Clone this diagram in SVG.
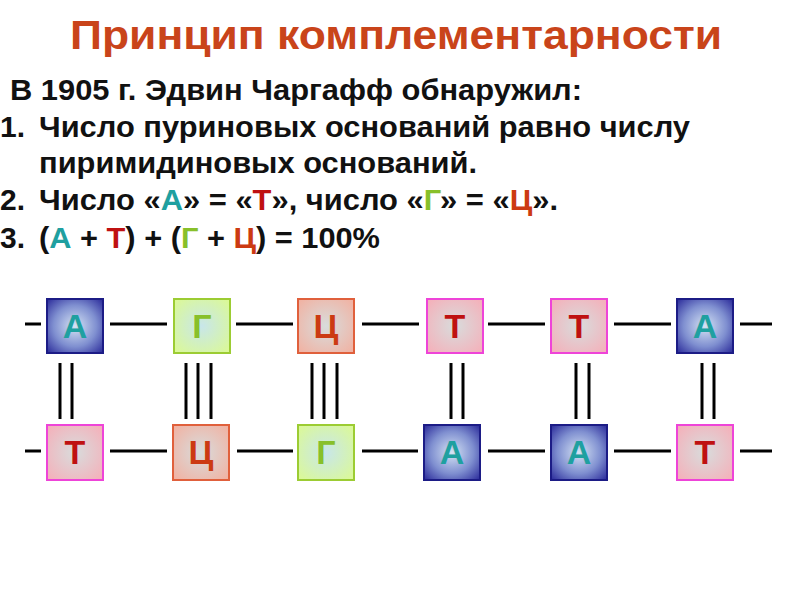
<svg xmlns="http://www.w3.org/2000/svg" width="800" height="600" viewBox="0 0 800 600">
<defs>
<radialGradient id="gA" cx="50%" cy="50%" r="70%">
<stop offset="0" stop-color="#d6e4f4"/><stop offset="0.55" stop-color="#7f8fd0"/><stop offset="1" stop-color="#2a2a9a"/>
</radialGradient>
<radialGradient id="gG" cx="50%" cy="50%" r="70%">
<stop offset="0" stop-color="#c8e6ea"/><stop offset="1" stop-color="#dcfa92"/>
</radialGradient>
<radialGradient id="gC" cx="50%" cy="50%" r="70%">
<stop offset="0" stop-color="#d8dcdc"/><stop offset="1" stop-color="#f2b0a0"/>
</radialGradient>
<radialGradient id="gT" cx="50%" cy="50%" r="70%">
<stop offset="0" stop-color="#d8dcdc"/><stop offset="1" stop-color="#f6aeb8"/>
</radialGradient>
</defs>
<style>
text{font-family:"Liberation Sans",Arial,sans-serif;font-weight:bold}
.title{font-size:40px;fill:#c9441a}
.body{font-size:30px;fill:#111}
.cA{fill:#1fa0a0}.cT{fill:#bf1111}.cG{fill:#88c02a}.cC{fill:#cc3a12}
.bA{fill:url(#gA);stroke:#1c1c86;stroke-width:2}
.bG{fill:url(#gG);stroke:#9ccc33;stroke-width:2}
.bC{fill:url(#gC);stroke:#e0603c;stroke-width:2}
.bT{fill:url(#gT);stroke:#ee44d8;stroke-width:2}
.lbl{font-size:34px;text-anchor:middle}
.ln line{stroke:#000;stroke-width:3}
</style>
<rect width="800" height="600" fill="#fff"/>
<text class="title" x="70" y="49" textLength="652" lengthAdjust="spacingAndGlyphs">Принцип комплементарности</text>
<text class="body" x="10" y="100" textLength="572" lengthAdjust="spacingAndGlyphs">В 1905 г. Эдвин Чаргафф обнаружил:</text>
<text class="body" x="0" y="137">1.</text>
<text class="body" x="39" y="137" textLength="651" lengthAdjust="spacingAndGlyphs">Число пуриновых оснований равно числу</text>
<text class="body" x="39" y="173" textLength="438" lengthAdjust="spacingAndGlyphs">пиримидиновых оснований.</text>
<text class="body" x="0" y="210">2.</text>
<text class="body" x="39" y="210" textLength="519" lengthAdjust="spacingAndGlyphs">Число «<tspan class="cA">А</tspan>» = «<tspan class="cT">Т</tspan>», число «<tspan class="cG">Г</tspan>» = «<tspan class="cC">Ц</tspan>».</text>
<text class="body" x="0" y="248">3.</text>
<text class="body" x="39" y="248" textLength="341" lengthAdjust="spacingAndGlyphs">(<tspan class="cA">А</tspan> + <tspan class="cT">Т</tspan>) + (<tspan class="cG">Г</tspan> + <tspan class="cC">Ц</tspan>) = 100%</text>

<g id="connectors" class="ln">
<line x1="25" y1="324" x2="41" y2="324"/>
<line x1="110" y1="324" x2="167" y2="324"/>
<line x1="236" y1="324" x2="293" y2="324"/>
<line x1="362" y1="324" x2="419" y2="324"/>
<line x1="488" y1="324" x2="545" y2="324"/>
<line x1="614" y1="324" x2="671" y2="324"/>
<line x1="740" y1="324" x2="772" y2="324"/>
<line x1="25" y1="451" x2="41" y2="451"/>
<line x1="110" y1="451" x2="167" y2="451"/>
<line x1="237" y1="451" x2="293" y2="451"/>
<line x1="362" y1="451" x2="418" y2="451"/>
<line x1="488" y1="451" x2="545" y2="451"/>
<line x1="614" y1="451" x2="671" y2="451"/>
<line x1="740" y1="451" x2="772" y2="451"/>
<line x1="60" y1="363" x2="60" y2="419"/>
<line x1="72" y1="363" x2="72" y2="419"/>
<line x1="186" y1="363" x2="186" y2="419"/>
<line x1="198" y1="363" x2="198" y2="419"/>
<line x1="211" y1="363" x2="211" y2="419"/>
<line x1="312" y1="363" x2="312" y2="419"/>
<line x1="324" y1="363" x2="324" y2="419"/>
<line x1="337" y1="363" x2="337" y2="419"/>
<line x1="451" y1="363" x2="451" y2="419"/>
<line x1="463" y1="363" x2="463" y2="419"/>
<line x1="576" y1="363" x2="576" y2="419"/>
<line x1="589" y1="363" x2="589" y2="419"/>
<line x1="702" y1="363" x2="702" y2="419"/>
<line x1="714" y1="363" x2="714" y2="419"/>
</g>

<g id="t1"><rect class="bA" x="47" y="299" width="56" height="54"/><text class="lbl cA" x="75" y="338">А</text></g>
<g id="t2"><rect class="bG" x="174" y="299" width="56" height="54"/><text class="lbl cG" x="202" y="338">Г</text></g>
<g id="t3"><rect class="bC" x="298" y="299" width="56" height="54"/><text class="lbl cC" x="326" y="338">Ц</text></g>
<g id="t4"><rect class="bT" x="427" y="299" width="56" height="54"/><text class="lbl cT" x="455" y="338">Т</text></g>
<g id="t5"><rect class="bT" x="551" y="299" width="56" height="54"/><text class="lbl cT" x="579" y="338">Т</text></g>
<g id="t6"><rect class="bA" x="677" y="299" width="56" height="54"/><text class="lbl cA" x="705" y="338">А</text></g>

<g id="b1"><rect class="bT" x="47" y="425" width="56" height="55"/><text class="lbl cT" x="75" y="464">Т</text></g>
<g id="b2"><rect class="bC" x="173" y="425" width="56" height="55"/><text class="lbl cC" x="201" y="464">Ц</text></g>
<g id="b3"><rect class="bG" x="298" y="425" width="56" height="55"/><text class="lbl cG" x="326" y="464">Г</text></g>
<g id="b4"><rect class="bA" x="424" y="425" width="56" height="55"/><text class="lbl cA" x="452" y="464">А</text></g>
<g id="b5"><rect class="bA" x="551" y="425" width="56" height="55"/><text class="lbl cA" x="579" y="464">А</text></g>
<g id="b6"><rect class="bT" x="677" y="425" width="56" height="55"/><text class="lbl cT" x="705" y="464">Т</text></g>
</svg>
